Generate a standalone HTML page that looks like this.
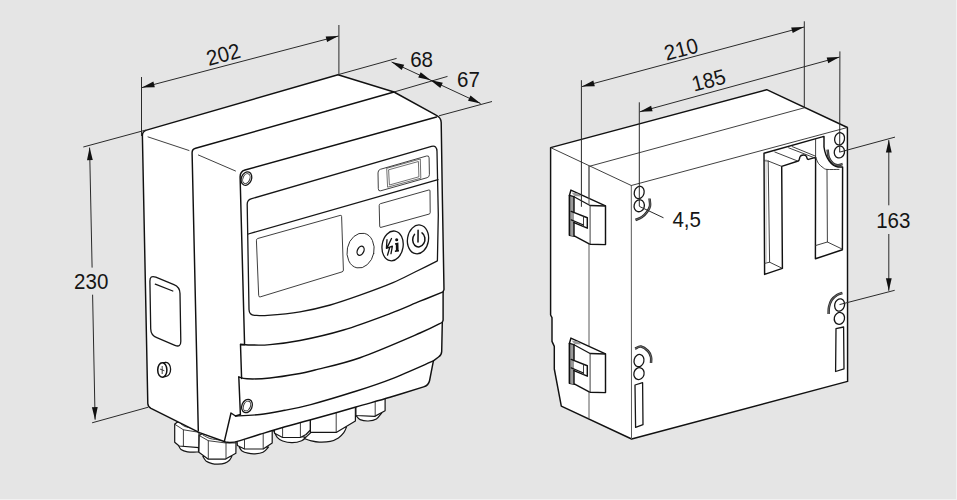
<!DOCTYPE html>
<html><head><meta charset="utf-8"><title>Dimensions</title>
<style>
html,body{margin:0;padding:0;background:#e5e5e5;overflow:hidden}
body{width:957px;height:500px;position:relative}
svg{position:absolute;left:0;top:0;display:block}
.edge{position:absolute;background:#f1f1f1}
text{font-family:"Liberation Sans",sans-serif;font-size:21.6px;fill:#151515}
.k{fill:none;stroke:#111;stroke-width:1.45;stroke-linejoin:round;stroke-linecap:round}
.m{fill:none;stroke:#161616;stroke-width:1.3;stroke-linejoin:round;stroke-linecap:round}
.t{fill:none;stroke:#2a2a2a;stroke-width:.9;stroke-linejoin:round;stroke-linecap:round}
.tg{fill:none;stroke:#5a5a5a;stroke-width:1}
.d{fill:none;stroke:#2a2a2a;stroke-width:1}
.w{fill:#fff;stroke:#111;stroke-width:1.45;stroke-linejoin:round}
.wm{fill:#fff;stroke:#161616;stroke-width:1.2;stroke-linejoin:round}
.a{fill:#111;stroke:none}
.g{fill:#9a9a9a;stroke:none}
</style></head><body>
<svg width="957" height="500" viewBox="0 0 957 500">
<rect x="0" y="0" width="957" height="500" fill="#e5e5e5"/>
<g id="left">
<path class="wm" d="M178.5,445 C178.9,445.8 179.5,448.4 181,449.5 C182.5,450.6 184.6,451.4 187.5,451.8 C190.4,452.2 196.7,452 198.5,452 L198.5,440 L178,440Z"/>
<path class="wm" d="M174.7,424.2 L177.7,421.8 L186,423 L199,430 L199,447.6 L179.2,446 L174.7,442.2Z"/>
<path class="t" d="M183.4,429.8 L183.4,446.6"/>
<path class="t" d="M174.7,424.2 L183.4,429.8 L199,432.3"/>
<path class="t" d="M180.5,423.5 C181.2,424 183.2,425.8 185,426.5 C186.8,427.2 190,427.8 191,428"/>
<path class="wm" d="M202.8,456.5 C203.4,457.3 204.8,460.1 206.3,461.3 C207.9,462.5 210.2,463.1 212.1,463.6 C214,464.1 215.8,464.3 217.9,464.2 C220,464.1 223,463.8 224.9,463.1 C226.8,462.4 228.3,461.3 229.5,460.2 C230.7,459.1 231.4,457.1 231.8,456.5Z"/>
<path class="wm" d="M199.2,435.5 L202.5,433.5 L212,434 L236,441 L235.9,453.2 L225.6,459.1 L208,459.1 L198.9,452.2Z"/>
<path class="t" d="M208.3,440.7 L208.3,458.9"/>
<path class="t" d="M226,443 L226,458.9"/>
<path class="t" d="M199.2,435.5 L208.3,440.7 L226,443 L235.8,443"/>
<path class="t" d="M203,435 C204.2,435.6 207.2,437.7 210,438.5 C212.8,439.3 218.3,439.8 220,440"/>
<path class="wm" d="M239.2,447 C239.7,447.7 240.5,450 242,451 C243.5,452 245.8,452.7 248,453.2 C250.2,453.7 252.5,453.9 255,453.8 C257.5,453.7 260.8,453.4 263,452.3 C265.2,451.2 267.6,447.9 268.5,447Z"/>
<path class="wm" d="M237,440 L237.4,445.5 L244.5,449 L263.2,449 L272.2,443 L272.2,428 L237,436Z"/>
<path class="t" d="M244.5,440 L244.5,448.8"/>
<path class="t" d="M263.2,434 L263.2,448.8"/>
<path class="wm" d="M273.8,431 C274.4,432.1 275.7,435.6 277.2,437.3 C278.7,439 280.2,440.1 282.7,441 C285.2,441.9 289,442.8 292.2,442.7 C295.4,442.6 299.4,441.6 301.7,440.7 C304,439.8 305.1,437.9 305.8,437.3Z"/>
<path class="wm" d="M274.1,428 L274.6,433.3 L282.6,437.5 L300.4,437.5 L306,434.5 L310.4,430 L310.4,418 Z"/>
<path class="t" d="M282.6,427 L282.6,437.3"/>
<path class="t" d="M300.4,422 L300.4,437.3"/>
<path class="wm" d="M304.4,438.6 C305.5,439 308.7,440.2 311.2,440.8 C313.7,441.4 316.1,442 319.3,442.1 C322.5,442.2 327,442.1 330.2,441.4 C333.4,440.7 336.1,439.5 338.4,438 C340.7,436.5 342.4,434.4 343.8,432.6 C345.2,430.8 346.1,428 346.5,427.1 L320,424Z"/>
<path class="wm" d="M310.4,418 L310.4,432.4 L336.2,432.4 L355.4,421.1 L355.4,404 Z"/>
<path class="t" d="M336.2,412.7 L336.2,432.2"/>
<path class="wm" d="M356,415.5 C356.7,416.2 358.1,418.7 360.1,419.6 C362.2,420.5 365.6,421.1 368.3,421 C371,420.9 374.1,420.4 376.4,419 C378.6,417.6 380.9,413.9 381.8,412.9 L370,408Z"/>
<path class="wm" d="M355.9,404 L355.9,415.5 L374.7,416.4 L385.1,410.8 L385.1,396 Z"/>
<path class="t" d="M375.2,401.4 L375.2,416.2"/>
<path class="w" d="M142.4,136 Q142.2,131.4 146.5,130.1 L338,74.7 L394,92 L436.5,115.4 Q441,117.6 441.2,122.5 L442.4,200 L444,289.6 L443.1,291.8 L443.1,320.3 L442.3,322.3 L441.7,351.5 Q441.6,355 438.5,357 L433.4,360.9 L429.6,380.5 Q428.5,385.6 423.6,386.9  C418,388.6 401.3,393.9 390,397.3 C378.7,400.7 369.1,403.2 355.9,407 C342.7,410.8 322.6,416.5 310.8,419.8 C299,423.1 293.5,424.4 285,426.8 C276.5,429.2 267.5,432 260,434.3 C252.5,436.6 243.3,439.6 240,440.6 Q231,443.4 225.5,442 L199.5,432.6 L151,408.4 Q148,406.8 147.8,403.5 Z"/>
<path class="k" d="M198.3,430.5 L192.1,153.2 Q191.9,149.3 195.6,148.3 L394,92"/>
<path class="t" d="M148,136.9 L189,150.5"/>
<path class="t" d="M198.4,155 L235.5,171"/>
<path class="k" d="M436.5,117 L245,170 Q240,171.5 240.1,177 L244.5,341.4 L244.5,344.7 L240.5,344.7 L241.6,378.6 M238.8,377 L240.4,414.5"/>
<path class="k" d="M240.4,414.5 L235.5,416 L231,413 L224.3,441.6"/>
<path class="k" d="M240.5,344.2 C242.4,344.3 247.1,344.9 252,345 C256.9,345.1 262,345.4 270,344.6 C278,343.9 287.8,342.9 300,340.5 C312.2,338.1 328.5,334.5 343.5,330 C358.5,325.5 377.2,318.4 390,313.6 C402.8,308.8 411.1,304.8 420,301.2 C428.9,297.6 439.2,293.4 443.1,291.8"/>
<path class="k" d="M238.8,377 C240.2,377.3 241.8,378.6 247,378.8 C252.2,379 261.2,378.9 270,378 C278.8,377.1 292.5,374.8 300,373.5 C307.5,372.2 305,372.6 315,370 C325,367.4 342.5,363.9 360,357.7 C377.5,351.5 406.3,338.9 420,333 C433.7,327.1 438.6,324.1 442.3,322.3"/>
<path class="k" d="M235.5,416 C239.6,415.8 251.8,415.4 260,414.5 C268.2,413.6 276.5,411.9 285,410.3 C293.5,408.7 299.3,407.7 310.8,404.6 C322.3,401.5 340.5,396.1 354,391.8 C367.5,387.5 378.5,384 391.7,378.8 C404.9,373.6 426.4,363.9 433.4,360.9"/>
<path class="m" d="M437.4,260.8 L438.3,215 L437,151.6 Q436.8,144.9 431.5,146.4 L251,198.9 Q247.1,200.1 247.2,204.6 L249,309.5 Q249.2,315.2 254.5,315.3  C256.7,315.3 260,316 267.6,315.4 C275.2,314.8 289.6,313.5 300,311.8 C310.4,310.1 320.3,307.8 330.3,305 C340.3,302.2 349.6,298.9 360,295.2 C370.4,291.5 383.8,286.6 393,282.7 C402.2,278.8 407.6,275.6 415,272 C422.4,268.4 433.7,262.7 437.4,260.8"/>
<path class="m" d="M248.3,234 L438,179.6"/>
<path class="t" d="M378,172.5 Q378,170 380.4,169.3 L426.6,156 Q429,155.3 429.1,157.8 L429.4,174.5 Q429.5,177 427.1,177.7 L380.7,190.8 Q378.3,191.5 378.3,189 Z"/>
<path d="M386.7,168.3 L420.3,159 L420.8,178.2 L387.6,187.2Z" fill="none" stroke="#333" stroke-width=".7"/>
<path d="M388.6,169.8 L418.4,161.5 L418.9,176.8 L389.4,185Z" fill="none" stroke="#333" stroke-width=".7"/>
<path class="t" d="M379.2,205.2 Q379.2,204 380.4,203.7 L428.8,190 Q430,189.7 430,190.9 L430.2,212.6 Q430.2,213.8 429,214.1 L380.9,227.4 Q379.7,227.7 379.7,226.5 Z"/>
<path class="t" d="M256.4,240.4 Q256.3,238.9 257.7,238.5 L340.2,215.4 Q341.6,215 341.6,216.5 L343.4,270 Q343.4,271.5 342,271.9 L260.2,296.9 Q258.8,297.3 258.7,295.8 Z"/>
<ellipse class="t" cx="360.6" cy="250.6" rx="13.4" ry="17.6" transform="rotate(12 360.6 250.6)"/>
<ellipse class="m" cx="360.6" cy="250.8" rx="3.2" ry="4.8" transform="rotate(24 360.6 250.8)"/>
<ellipse class="m" cx="392.6" cy="245.9" rx="10.5" ry="15" transform="rotate(9 392.6 245.9)"/>
<ellipse class="m" cx="418" cy="239.4" rx="10.5" ry="14.5" transform="rotate(9 418 239.4)"/>
<path d="M414.5,234.4 A6.1,7.5 8 1 0 422,232.8" fill="none" stroke="#111" stroke-width="1.5" stroke-linecap="round"/>
<path d="M418.1,230.2 L418,242" fill="none" stroke="#111" stroke-width="1.5" stroke-linecap="round"/>
<path d="M387,239.7 L386.4,248.3 L392.4,246.2 L391,253.7 M391.5,238.5 L387,247.9 M389.8,247.2 L387.5,255.2" fill="none" stroke="#111" stroke-width="1.3" stroke-linecap="round" stroke-linejoin="round"/>
<path d="M395,243.2 L398.4,242.6 L398.6,250 L399,250.2 L399,251.6 L394.9,252 L394.9,250.5 L395.9,250.3 L395.8,244.6 L395,244.7Z" fill="#111"/>
<circle cx="396.7" cy="239.7" r="1.55" fill="#111"/>
<ellipse class="m" cx="246.4" cy="178.6" rx="5.1" ry="6.9" transform="rotate(22 246.4 178.6)"/>
<ellipse class="t" cx="246.4" cy="178.6" rx="3.4" ry="5.1" transform="rotate(22 246.4 178.6)"/>
<ellipse class="m" cx="247" cy="406" rx="5.1" ry="6.9" transform="rotate(22 247 406)"/>
<ellipse class="t" cx="247" cy="406" rx="3.4" ry="5.1" transform="rotate(22 247 406)"/>
<path class="m" d="M149.9,281.3 Q149.8,274.8 155.8,277.2 L173.9,284.6 Q179.9,287 180,293.5 L180.8,341.3 Q180.9,347.8 174.9,345.3 L156.8,337.7 Q150.8,335.2 150.7,328.7 Z"/>
<path class="m" d="M155.3,284.2 L172.8,291"/>
<ellipse cx="166" cy="369.3" rx="4.6" ry="7" fill="#fff" stroke="#161616" stroke-width="1.3"/>
<path d="M162.4,362.8 L166,362.3 M162.4,377.2 L166,376.3" fill="none" stroke="#161616" stroke-width="1.3"/>
<ellipse cx="162.3" cy="370" rx="4.6" ry="7.2" fill="#fff" stroke="#111" stroke-width="1.5"/>
<path class="t" d="M162.2,366.4 L162.2,373.6"/>
<path class="t" d="M160.4,369.2 L164,370.6"/>
<path class="d" d="M141.5,77 L141.5,136"/>
<path class="d" d="M338.9,25 L338.9,74.5"/>
<path class="d" d="M142,87.6 L338.5,36"/>
<path class="a" d="M142,87.6 L153.4,81.6 L154.8,87.2Z"/>
<path class="a" d="M338.5,36 L327.1,42 L325.7,36.4Z"/>
<text transform="translate(225.3 61.6) rotate(-15) scale(.95 1)" text-anchor="middle">202</text>
<path class="d" d="M339,74.4 L396.6,58.4"/>
<path class="d" d="M394,92 L447.5,76.4"/>
<path class="d" d="M439,115.8 L492,101.5"/>
<path class="d" d="M391.6,62 L480.6,103.5"/>
<path class="a" d="M391.6,62 L404.2,64.7 L401.7,69.9Z"/>
<path class="a" d="M480.6,103.5 L468,100.8 L470.5,95.6Z"/>
<path class="a" d="M430.8,80.2 L418.2,77.6 L420.7,72.3Z"/>
<path class="a" d="M430.2,80 L442.8,82.7 L440.3,87.9Z"/>
<text transform="translate(421.6 66.7) rotate(0) scale(.95 1)" text-anchor="middle">68</text>
<text transform="translate(468.4 86.9) rotate(0) scale(.95 1)" text-anchor="middle">67</text>
<path class="d" d="M83.3,147 L146,130"/>
<path class="d" d="M92.1,422.8 L148.3,407.2"/>
<path class="d" d="M89.6,147.6 L92.1,267.6"/>
<path class="d" d="M92.6,294.7 L95.1,419.7"/>
<path class="a" d="M89.6,147.6 L92.8,160 L87,160.2Z"/>
<path class="a" d="M95.1,419.7 L91.9,407.3 L97.7,407.1Z"/>
<text transform="translate(91.2 289) rotate(0) scale(.95 1)" text-anchor="middle">230</text>
</g>
<g id="right">
<path class="w" d="M550.6,147.6 L766.7,89.7 L847.4,127.5 L847.6,381.4 L631.6,439 L561.3,406.2 L554.3,369 L554.3,346.4 L552,341.4 L552,317.6 L550.6,315Z"/>
<path class="t" d="M550.6,147.6 L631.3,185.5"/>
<path class="t" d="M631.3,185.5 L847.4,127.5"/>
<path class="t" d="M589,166.4 L804.3,107.8"/>
<path class="tg" d="M589,166.4 L589,418.5"/>
<path class="tg" d="M631.3,185.5 L631.5,439"/>
<path class="w" d="M570.9,190.1 L605.5,205.8 L605.5,244.6 L590.1,244.2 L588.7,243.6 L574.7,236.2 L569.5,235.2 L569.5,195.3Z"/>
<path class="g" d="M569.6,195.3 L574,196.7 L574,236.4 L569.6,235.2Z"/>
<path class="m" d="M569.5,195.3 L574,196.7 L590.1,205.5 L605.5,206"/>
<path class="k" d="M574,196.7 L574,211.8"/>
<path class="k" d="M574,222.6 L574,236"/>
<path class="k" d="M571.2,211.4 L587.3,217.7 L587.3,228.2 L574,222.6"/>
<path class="m" d="M571.2,219.8 L583.5,225"/>
<path class="t" d="M583.5,216.5 L583.5,226.5"/>
<path class="t" d="M590.1,205.5 L590.1,244"/>
<path class="g" d="M571.5,192.5 L578,193.6 L581,196.4 L574.5,196Z"/>
<path class="k" d="M569.5,195.3 L569.5,235.2"/>
<path class="tg" d="M589,166.4 L589,204.6"/>
<path class="w" d="M570.9,338.1 L605.5,353.8 L605.5,392.6 L590.1,392.2 L588.7,391.6 L574.7,384.2 L569.5,383.2 L569.5,343.3Z"/>
<path class="g" d="M569.6,343.3 L574,344.7 L574,384.4 L569.6,383.2Z"/>
<path class="m" d="M569.5,343.3 L574,344.7 L590.1,353.5 L605.5,354"/>
<path class="k" d="M574,344.7 L574,359.8"/>
<path class="k" d="M574,370.6 L574,384"/>
<path class="k" d="M571.2,359.4 L587.3,365.7 L587.3,376.2 L574,370.6"/>
<path class="m" d="M571.2,367.8 L583.5,373"/>
<path class="t" d="M583.5,364.5 L583.5,374.5"/>
<path class="t" d="M590.1,353.5 L590.1,392"/>
<path class="g" d="M571.5,340.5 L578,341.6 L581,344.4 L574.5,344Z"/>
<path class="k" d="M569.5,343.3 L569.5,383.2"/>
<ellipse class="m" cx="639.2" cy="192.5" rx="4.9" ry="6.2" transform="rotate(14 639.2 192.5)"/>
<ellipse class="m" cx="639.2" cy="205.8" rx="5.1" ry="6" transform="rotate(14 639.2 205.8)"/>
<path d="M649.5,198.5 C649.6,199.8 650.4,203.8 650,206 C649.6,208.2 648.3,210.2 647,212 C645.7,213.8 643.9,215.7 642,217 C640.1,218.3 636.6,219.5 635.5,220" fill="none" stroke="#2a2a2a" stroke-width="2.5" stroke-linecap="butt"/>
<path d="M649.5,198.5 C649.6,199.8 650.4,203.8 650,206 C649.6,208.2 648.3,210.2 647,212 C645.7,213.8 643.9,215.7 642,217 C640.1,218.3 636.6,219.5 635.5,220" fill="none" stroke="#aaa" stroke-width=".5" stroke-linecap="butt"/>
<ellipse class="m" cx="839.6" cy="138.8" rx="4.9" ry="6.2" transform="rotate(14 839.6 138.8)"/>
<ellipse class="m" cx="839.4" cy="152" rx="5.1" ry="6" transform="rotate(14 839.4 152)"/>
<path d="M827.6,149.6 C827.8,150.9 827.9,155.1 828.8,157.4 C829.7,159.7 831.5,162.1 833,163.4 C834.5,164.7 836.2,165.1 837.8,165.2 C839.4,165.3 841.8,164.2 842.6,164" fill="none" stroke="#2a2a2a" stroke-width="2.5" stroke-linecap="butt"/>
<path d="M827.6,149.6 C827.8,150.9 827.9,155.1 828.8,157.4 C829.7,159.7 831.5,162.1 833,163.4 C834.5,164.7 836.2,165.1 837.8,165.2 C839.4,165.3 841.8,164.2 842.6,164" fill="none" stroke="#aaa" stroke-width=".5" stroke-linecap="butt"/>
<ellipse class="m" cx="839.6" cy="305" rx="4.9" ry="6.2" transform="rotate(14 839.6 305)"/>
<ellipse class="m" cx="839.4" cy="318.4" rx="5.1" ry="6" transform="rotate(14 839.4 318.4)"/>
<path d="M842.4,293 C841.5,293.3 838.8,293.8 837,295 C835.2,296.2 832.9,298 831.6,300 C830.3,302 829.5,304.7 829,307 C828.5,309.3 828.7,312.8 828.6,314" fill="none" stroke="#2a2a2a" stroke-width="2.5" stroke-linecap="butt"/>
<path d="M842.4,293 C841.5,293.3 838.8,293.8 837,295 C835.2,296.2 832.9,298 831.6,300 C830.3,302 829.5,304.7 829,307 C828.5,309.3 828.7,312.8 828.6,314" fill="none" stroke="#aaa" stroke-width=".5" stroke-linecap="butt"/>
<ellipse class="m" cx="639" cy="360.6" rx="4.9" ry="6.2" transform="rotate(14 639 360.6)"/>
<ellipse class="m" cx="639" cy="373.6" rx="5.1" ry="6" transform="rotate(14 639 373.6)"/>
<path d="M635,348.6 C636,348.3 638.8,346.2 641,346.6 C643.2,347 646.3,349.3 648,351 C649.7,352.7 650.5,355 651,357 C651.5,359 651,362 651,363" fill="none" stroke="#2a2a2a" stroke-width="2.5" stroke-linecap="butt"/>
<path d="M635,348.6 C636,348.3 638.8,346.2 641,346.6 C643.2,347 646.3,349.3 648,351 C649.7,352.7 650.5,355 651,357 C651.5,359 651,362 651,363" fill="none" stroke="#aaa" stroke-width=".5" stroke-linecap="butt"/>
<path class="m" d="M635,385 L642.6,382.6 L643,424.6 L635.6,427.4Z"/>
<path class="m" d="M836,328.6 L843.6,327 L844,368.8 L835.6,371.5Z"/>
<path class="k" d="M764,153.2 L764.6,274.4 L782.4,268.4 L781.7,166.4 L798.2,161 C799.6,160.4 799.4,158 800,156.8 C801,154.6 805.6,154.2 806.6,156.8 C807,158 806.8,159.6 808.4,159.4 L815.6,157.4 L815.4,258.8 L842.4,249.8 L842.6,167 L838,167 C831.5,166.5 825.5,158 824,147 L824,136.4 Z"/>
<path class="t" d="M764.3,160.8 L768.2,161 L781.7,166.4"/>
<path class="t" d="M768.2,161 L769.6,262.2 L764.6,263.4"/>
<path class="t" d="M769.6,262.2 L782.4,268.4"/>
<path d="M766,159 L766.2,263" fill="none" stroke="#999" stroke-width=".6"/>
<path class="t" d="M774.8,152 L797.6,161"/>
<path class="t" d="M788.6,147.8 L815,158"/>
<path class="t" d="M792.2,146.6 L815.6,156.2"/>
<path class="t" d="M815.6,138.8 L815.6,157.4"/>
<path class="t" d="M815.8,157.4 C816.2,158.4 817.3,161.8 818.5,163.5 C819.7,165.2 821.6,166.6 823,167.6 C824.4,168.6 824.3,169.1 827,169.4 C829.7,169.7 837,169.4 839,169.4"/>
<path class="t" d="M827,169.4 L827.4,242 L815.4,245.6"/>
<path class="t" d="M827.4,242 L842.4,249.2"/>
<path class="d" d="M581.4,80.2 L581.4,206.8"/>
<path class="d" d="M804.3,21.3 L804.3,107"/>
<path class="d" d="M582,86.6 L804,27"/>
<path class="a" d="M582,86.6 L593.3,80.6 L594.8,86.2Z"/>
<path class="a" d="M804,27 L792.7,33 L791.2,27.4Z"/>
<text transform="translate(683 56.5) rotate(-14.8) scale(.95 1)" text-anchor="middle">210</text>
<path class="d" d="M639.3,102.3 L639.3,206"/>
<path class="d" d="M839.9,51.4 L839.7,152"/>
<path class="d" d="M639.8,111.8 L839.5,57.1"/>
<path class="a" d="M639.8,111.8 L651.1,105.7 L652.6,111.3Z"/>
<path class="a" d="M839.5,57.1 L828.2,63.2 L826.7,57.6Z"/>
<text transform="translate(710.5 87.5) rotate(-14.8) scale(.95 1)" text-anchor="middle">185</text>
<path class="d" d="M839.4,152.2 L895,137.1"/>
<path class="d" d="M839.5,304.6 L894.7,290.3"/>
<path class="d" d="M888.8,140.1 L888.8,205.3"/>
<path class="d" d="M888.8,234 L888.8,290.8"/>
<path class="a" d="M888.8,140.1 L891.7,152.6 L885.9,152.6Z"/>
<path class="a" d="M888.8,290.8 L885.9,278.3 L891.7,278.3Z"/>
<text transform="translate(893.3 227.9) rotate(0) scale(.95 1)" text-anchor="middle">163</text>
<path class="d" d="M639.3,206.4 L663.5,217.8"/>
<text transform="translate(686.7 226.8) rotate(0) scale(.95 1)" text-anchor="middle">4,5</text>
</g>
</svg>
<div class="edge" style="right:0;top:0;width:1px;height:500px"></div>
<div class="edge" style="left:0;bottom:0;width:957px;height:1px"></div>
</body></html>
